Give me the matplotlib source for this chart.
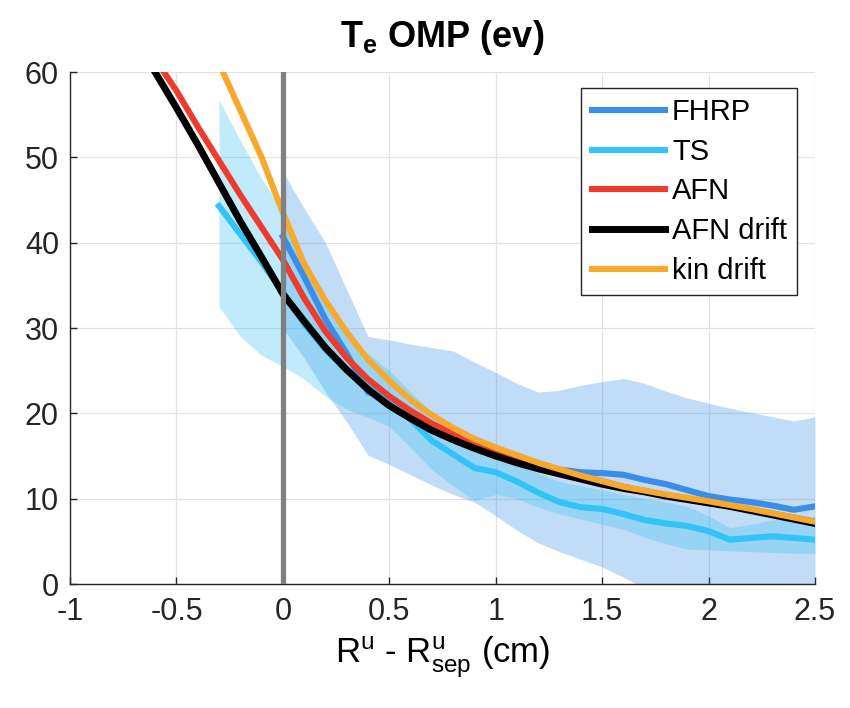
import matplotlib

matplotlib.use("Agg")
import matplotlib.pyplot as plt

# ---- data -------------------------------------------------------------
# experimental profiles (FHRP probe, Thomson scattering) with uncertainty bands
fhrp_x = [0.0, 0.1, 0.2, 0.3, 0.4, 0.5, 0.6, 0.7, 0.8, 0.9, 1.0, 1.1, 1.2, 1.3,
          1.4, 1.5, 1.6, 1.7, 1.8, 1.9, 2.0, 2.1, 2.2, 2.3, 2.4, 2.5]
fhrp_te = [40.7, 36.0, 31.0, 27.0, 22.5, 21.5, 20.0, 18.6, 17.5, 16.5, 15.5, 14.7,
           14.0, 13.4, 13.1, 13.0, 12.8, 12.2, 11.7, 11.0, 10.3, 9.9, 9.6, 9.2, 8.7, 9.1]
fhrp_hi = [48.3, 44.0, 40.0, 34.5, 29.0, 28.6, 28.1, 27.7, 27.3, 26.0, 24.8, 23.5,
           22.5, 22.7, 23.3, 23.7, 24.1, 23.5, 22.6, 21.8, 21.2, 20.6, 20.1, 19.6, 19.1, 19.6]
fhrp_lo = [30.0, 26.5, 22.5, 19.0, 15.1, 14.0, 12.8, 11.6, 10.5, 9.6, 8.0, 6.3,
           4.8, 3.8, 2.9, 2.0, 0.8, -0.5, -1.2, -1.8, -2.3, -2.8, -3.2, -3.6, -4.0, -4.2]

ts_x = [-0.3, -0.2, -0.1, 0.0, 0.1, 0.2, 0.3, 0.4, 0.5, 0.6, 0.7, 0.8, 0.9, 1.0,
        1.1, 1.2, 1.3, 1.4, 1.5, 1.6, 1.7, 1.8, 1.9, 2.0, 2.1, 2.2, 2.3, 2.4, 2.5]
ts_te = [44.3, 41.0, 37.7, 34.2, 30.5, 27.5, 25.0, 23.2, 21.5, 19.3, 16.8, 15.2,
         13.6, 13.1, 12.0, 10.7, 9.6, 9.0, 8.8, 8.2, 7.5, 7.1, 6.8, 6.2, 5.2, 5.4,
         5.6, 5.4, 5.2]
ts_hi = [56.7, 52.0, 47.5, 43.8, 38.0, 33.0, 29.0, 27.0, 25.0, 22.5, 20.0, 18.0,
         16.5, 15.5, 14.0, 13.0, 12.0, 11.5, 11.0, 10.5, 10.0, 9.6, 9.1, 8.0, 6.6,
         7.0, 7.5, 7.8, 7.9]
ts_lo = [32.5, 29.0, 26.8, 25.5, 24.0, 22.0, 20.5, 19.5, 18.5, 16.0, 13.4, 11.5,
         9.8, 10.5, 10.0, 9.0, 8.2, 7.6, 7.0, 6.4, 5.5, 4.7, 4.1, 4.0, 3.9, 3.8,
         3.7, 3.6, 3.6]

# simulation profiles
afn_x = [-0.6, -0.5, -0.4, -0.3, -0.2, -0.1, 0.0, 0.1, 0.2, 0.3, 0.4, 0.5, 0.6,
         0.7, 0.8, 0.9, 1.0, 1.2, 1.4, 1.6, 1.8, 2.0, 2.2, 2.4, 2.5]
afn_te = [61.5, 57.8, 53.6, 49.6, 45.6, 41.8, 38.0, 33.5, 29.6, 26.5, 24.0, 22.0,
          20.3, 18.8, 17.6, 16.6, 15.7, 14.1, 12.7, 11.4, 10.4, 9.5, 8.7, 7.8, 7.3]

afn_drift_x = [-0.62, -0.5, -0.4, -0.3, -0.2, -0.1, 0.0, 0.1, 0.2, 0.3, 0.4, 0.5,
               0.6, 0.7, 0.8, 0.9, 1.0, 1.1, 1.2, 1.3, 1.4, 1.5, 1.6, 1.7, 1.8,
               1.9, 2.0, 2.1, 2.2, 2.3, 2.4, 2.5]
afn_drift_te = [60.8, 55.8, 51.5, 47.0, 42.5, 38.3, 34.0, 30.8, 27.7, 25.1, 22.8,
                20.9, 19.4, 18.0, 16.9, 15.9, 15.0, 14.2, 13.5, 12.9, 12.3, 11.7,
                11.2, 10.8, 10.3, 9.9, 9.5, 9.1, 8.6, 8.1, 7.6, 7.1]

kin_x = [-0.3, -0.2, -0.1, 0.0, 0.1, 0.2, 0.3, 0.4, 0.5, 0.6, 0.7, 0.8, 0.9, 1.0,
         1.2, 1.4, 1.6, 1.8, 2.0, 2.2, 2.4, 2.5]
kin_te = [61.0, 55.5, 50.0, 43.5, 37.5, 33.2, 29.5, 26.3, 23.8, 21.6, 19.8, 18.3,
          17.0, 16.0, 14.2, 12.7, 11.4, 10.5, 9.7, 8.8, 7.8, 7.3]

x_ticks = [-1, -0.5, 0, 0.5, 1, 1.5, 2, 2.5]
x_tick_labels = ["-1", "-0.5", "0", "0.5", "1", "1.5", "2", "2.5"]
y_ticks = [0, 10, 20, 30, 40, 50, 60]

# ---- style ------------------------------------------------------------
plt.rcParams["font.family"] = ["Liberation Sans", "DejaVu Sans"]
plt.rcParams["mathtext.fontset"] = "custom"
plt.rcParams["mathtext.rm"] = "Liberation Sans"
plt.rcParams["mathtext.it"] = "Liberation Sans:italic"
plt.rcParams["mathtext.bf"] = "Liberation Sans:bold"

C_FHRP = "#3b8ee8"
C_TS = "#33c3f5"
C_AFN = "#ef3b2c"
C_DRIFT = "#000000"
C_KIN = "#f7a92e"

fig = plt.figure(figsize=(8.5, 7.08), dpi=100)
ax = fig.add_axes([0.0824, 0.1751, 0.8764, 0.7232])

ax.fill_between(fhrp_x, fhrp_lo, fhrp_hi, color=(0.2, 0.55, 0.9), alpha=0.3,
                linewidth=0, zorder=1)
ax.fill_between(ts_x, ts_lo, ts_hi, color=(0.2, 0.75, 0.95), alpha=0.3,
                linewidth=0, zorder=1)

lw = 4.4
ax.plot(fhrp_x, fhrp_te, color=C_FHRP, lw=lw, label="FHRP", zorder=3)
ax.plot(ts_x, ts_te, color=C_TS, lw=lw, label="TS", zorder=3)
ax.plot(afn_x, afn_te, color=C_AFN, lw=lw, label="AFN", zorder=3)
ax.plot(afn_drift_x, afn_drift_te, color=C_DRIFT, lw=lw + 0.6, label="AFN drift", zorder=3)
ax.plot(kin_x, kin_te, color=C_KIN, lw=lw, label="kin drift", zorder=3)

# separatrix marker
ax.axvline(0, color="#808080", lw=3.8, zorder=5)

ax.set_xlim(-1, 2.5)
ax.set_ylim(0, 60)
ax.set_xticks(x_ticks)
ax.set_xticklabels(x_tick_labels)
ax.set_yticks(y_ticks)
ax.grid(True, color="#e2e2e2", linewidth=0.9, zorder=0)
ax.set_axisbelow(True)
ax.tick_params(direction="in", length=5, width=1, labelsize=22, colors="#262626")
ax.tick_params(axis="x", pad=9)
ax.tick_params(axis="y", pad=8)
for side in ("top", "right"):
    ax.spines[side].set_visible(False)
for side in ("left", "bottom"):
    ax.spines[side].set_color("#262626")
    ax.spines[side].set_linewidth(1)

ax.set_title(r"$\mathbf{T_e}$ OMP (ev)", fontsize=26, fontweight="bold", pad=18)
ax.set_xlabel(r"R$^{\mathrm{u}}$ - R$^{\mathrm{u}}_{\mathrm{sep}}$ (cm)", fontsize=25,
              labelpad=6)

leg = ax.legend(loc="upper right", bbox_to_anchor=(0.976, 0.969), borderaxespad=0,
                fontsize=21, handlelength=2.5, handletextpad=0.25,
                labelspacing=0.4, borderpad=0.35, fancybox=False, framealpha=1)
leg.get_frame().set_edgecolor("#262626")
leg.get_frame().set_linewidth(1)

fig.savefig("out.png", dpi=100)
